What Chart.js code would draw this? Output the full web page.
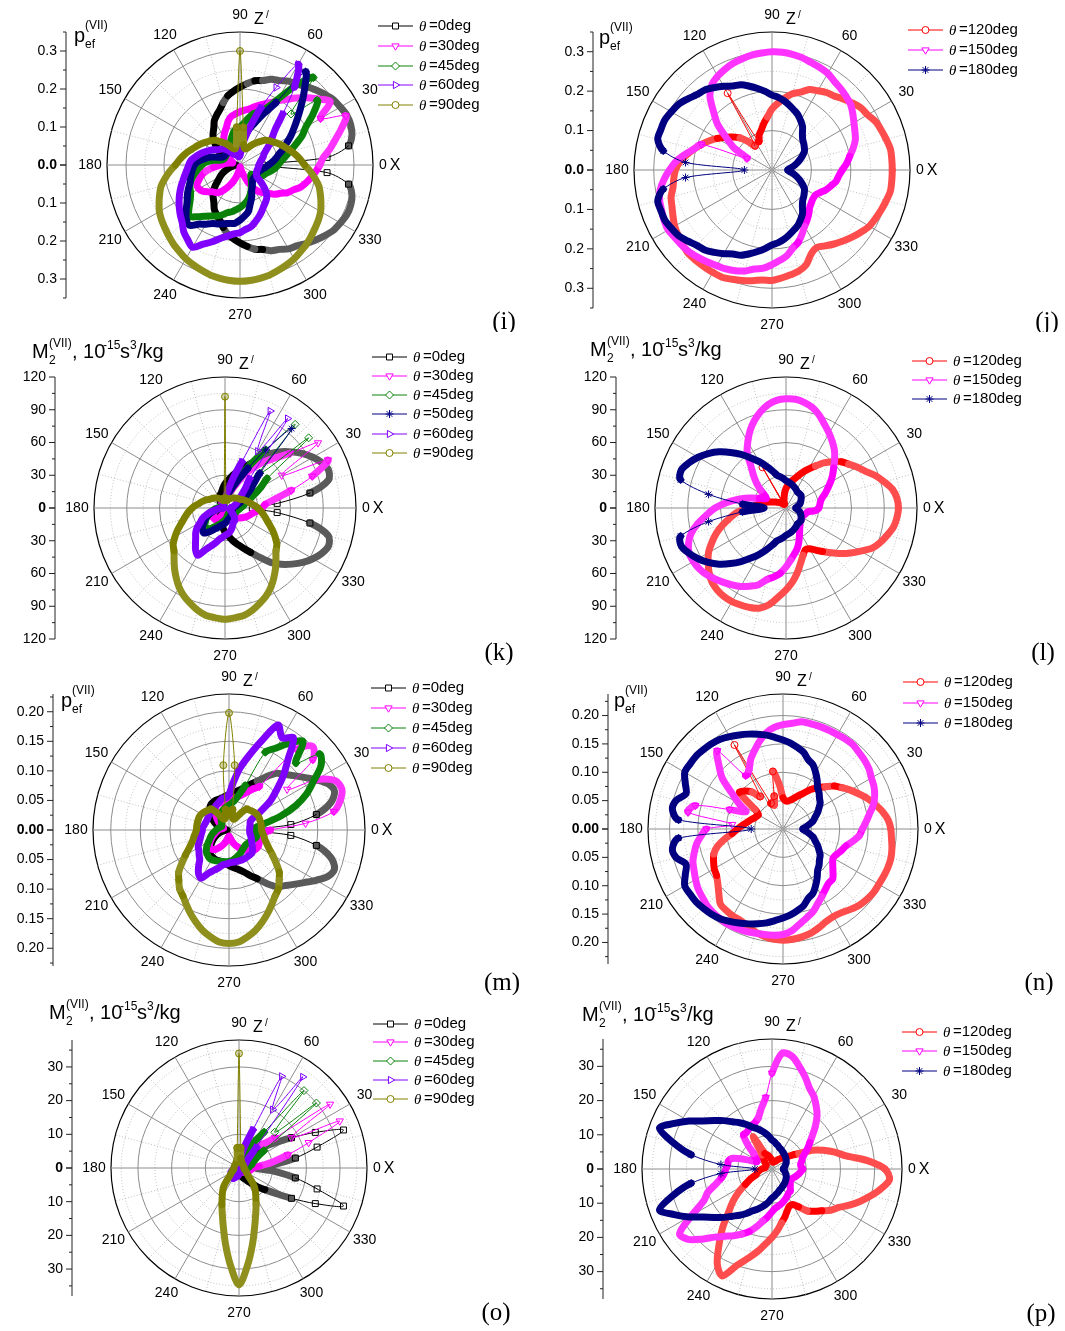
<!DOCTYPE html>
<html>
<head>
<meta charset="utf-8">
<style>
body { margin: 0; background: #fff; }
#page { position: relative; width: 1065px; height: 1331px; overflow: hidden; }
canvas { position: absolute; }
</style>
<script src="https://cdn.jsdelivr.net/npm/chart.js@4/dist/chart.umd.js"></script>
</head>
<body>
<div id="page"></div>
<script>
// all series are listed from 0 to 355 deg in 5 deg steps, one row per 90 deg
const iBlack = [.06,.23,.29,.305,.31,.31,.305,.3,.29,.28,.27,.26,.255,.245,.24,.23,.225,.215,
.205,.195,.185,.17,.155,.145,.135,.12,.11,.1,.085,.07,.06,.05,.04,.03,.02,.015,
.01,.015,.02,.03,.04,.05,.06,.07,.085,.1,.11,.12,.135,.145,.155,.17,.185,.195,
.205,.215,.225,.23,.24,.245,.255,.26,.27,.28,.29,.3,.305,.31,.31,.305,.29,.23];
const iMagenta = [.21,.22,.24,.26,.285,.307,.245,.29,.27,.25,.23,.21,.195,.18,.17,.16,.15,.145,
.14,.135,.13,.12,.105,.095,.085,.075,.06,.05,.04,.035,.03,.025,.02,.02,.03,.04,
.05,.07,.09,.105,.115,.125,.125,.12,.11,.1,.095,.085,.07,.055,.04,.025,.015,.01,
.005,.005,.01,.02,.03,.05,.07,.085,.095,.105,.12,.13,.145,.155,.17,.18,.19,.2];
const iGreen = [.1,.108,.12,.135,.155,.18,.2,.235,.265,.19,.3,.255,.2,.165,.15,.14,.125,.11,
.1,.095,.09,.08,.07,.06,.055,.05,.05,.048,.045,.044,.044,.044,.045,.05,.07,.09,
.1,.11,.12,.13,.14,.145,.15,.16,.175,.19,.178,.165,.155,.148,.14,.13,.125,.118,
.112,.105,.098,.09,.08,.07,.06,.052,.045,.04,.038,.045,.055,.066,.07,.076,.085,.093];
const iNavy = [.075,.085,.095,.105,.12,.135,.155,.175,.2,.23,.265,.3,.19,.15,.12,.1,.08,.07,
.06,.055,.05,.048,.046,.045,.045,.045,.045,.046,.046,.047,.047,.05,.06,.08,.095,.11,
.12,.125,.13,.135,.14,.15,.16,.17,.185,.2,.207,.19,.18,.17,.165,.16,.156,.154,
.145,.135,.125,.105,.09,.073,.065,.057,.052,.05,.05,.05,.05,.05,.052,.055,.06,.067];
const iPurple = [.05,.052,.055,.06,.065,.07,.08,.095,.11,.13,.175,.25,.306,.225,.16,.105,.07,.04,
.025,.022,.022,.025,.028,.03,.033,.04,.05,.06,.065,.07,.08,.09,.1,.11,.12,.13,
.135,.14,.147,.155,.165,.175,.185,.195,.205,.215,.23,.24,.25,.23,.215,.2,.19,.182,
.178,.17,.165,.155,.145,.135,.125,.118,.11,.095,.075,.055,.05,.048,.047,.047,.048,.049];
const iOlive = [.17,.16,.15,.14,.13,.122,.114,.106,.1,.092,.08,.07,.06,.05,.045,.045,.055,.1,
.3,.1,.055,.045,.045,.05,.06,.07,.08,.092,.1,.106,.114,.122,.13,.14,.15,.16,
.17,.185,.2,.215,.225,.235,.245,.252,.258,.265,.272,.278,.285,.29,.295,.3,.303,.305,
.306,.305,.303,.3,.295,.29,.285,.278,.272,.265,.258,.252,.245,.235,.225,.215,.2,.185];

const jRed = [.305,.305,.305,.3,.295,.29,.28,.275,.265,.255,.245,.24,.232,.225,.21,.2,.185,.17,
.155,.135,.12,.105,.095,.08,.225,.075,.095,.115,.13,.145,.16,.175,.19,.205,.22,.235,
.245,.25,.255,.265,.27,.277,.285,.29,.295,.3,.3,.3,.3,.3,.295,.29,.285,.28,
.28,.275,.27,.265,.255,.235,.227,.235,.245,.255,.265,.275,.285,.29,.295,.3,.305,.305];
const jMagenta = [.178,.19,.2,.213,.225,.232,.24,.25,.26,.265,.27,.275,.283,.287,.29,.295,.298,.3,
.3,.298,.296,.292,.288,.282,.275,.265,.245,.21,.18,.14,.11,.07,.19,.205,.225,.245,
.26,.275,.288,.295,.298,.302,.304,.3,.298,.295,.29,.285,.28,.277,.272,.265,.255,.25,
.24,.23,.22,.205,.195,.18,.165,.155,.145,.135,.13,.127,.127,.135,.146,.155,.165,.17];
const jNavy = [.04,.045,.055,.065,.075,.085,.095,.1,.105,.11,.12,.135,.145,.155,.162,.17,.178,.185,
.19,.2,.21,.22,.23,.235,.245,.255,.265,.27,.28,.29,.295,.3,.3,.3,.28,.22,
.07,.22,.28,.3,.3,.3,.295,.29,.28,.27,.265,.255,.245,.235,.23,.22,.21,.2,
.19,.185,.178,.17,.162,.155,.145,.135,.12,.11,.105,.1,.095,.085,.075,.065,.055,.045];

const kBlack = [25,48,79,98,101,98,93,87,80,73,65,55,47,41,36,32,28,25,
22,19,16,14,13,11,9,8,6,5,4,3,2,2,1,1,1,0,
0,0,1,1,1,2,2,3,4,5,6,8,9,11,13,14,16,19,
22,25,28,32,36,41,47,55,65,73,80,87,93,98,101,98,79,48];
const kMagenta = [34,37,46,63,85,104,60,104,78,65,55,45,35,24,18,14,11,9,
8,7,6,6,6,6,6,5,5,4,4,3,3,3,3,3,3,4,
4,6,8,9,11,12,13,14,14,14,14,12,10,8,6,4,3,2,
1,1,1,2,3,4,6,8,10,12,14,16,18,20,22,24,26,30];
const kGreen = [14,16,18,20,24,30,38,47,100,45,100,65,45,30,22,16,12,9,
7,5,4,4,3,3,3,3,3,3,3,3,3,3,4,4,5,6,
7,9,11,13,15,18,20,22,24,25,26,23,20,18,16,15,13,12,
11,10,9,8,7,7,6,6,6,6,7,8,9,10,11,11,12,13];
const kNavy = [7,8,10,12,15,18,22,28,34,45,95,65,42,28,20,15,11,9,
7,6,5,5,4,4,3,3,3,3,2,2,2,2,2,2,2,2,
3,5,8,11,15,18,21,24,27,29,30,27,24,21,19,17,16,15,
14,13,12,11,11,10,10,9,9,8,8,8,7,7,7,7,7,7];
const kPurple = [5,6,8,9,11,12,14,17,21,27,35,100,60,98,45,28,17,11,
8,6,5,5,4,4,4,3,3,3,3,2,2,2,2,2,1,1,
3,5,8,13,18,23,26,31,35,38,42,47,50,42,37,33,29,27,
25,24,23,21,19,17,15,15,14,12,10,8,7,6,5,5,5,5];
const kOlive = [30,27,24,22,20,18,16,15,14,13,12,11,10,9,8,7,7,9,
102,9,7,7,8,9,10,11,12,13,14,15,16,18,20,22,24,27,
30,33,36,39,43,48,53,58,61,66,72,78,84,89,93,97,100,101,
102,101,100,97,93,89,84,78,72,66,61,58,53,48,43,39,36,33];

const lRed = [103,102,99,93,87,80,75,70,66,60,54,47,41,36,31,27,24,21,
18,14,10,7,5,4,43,5,6,7,8,9,11,13,16,20,24,28,
33,45,52,60,68,75,82,87,92,96,98,99,99,98,97,95,90,82,
75,68,60,52,46,42,43,47,52,58,65,72,79,87,92,96,100,102];
const lMagenta = [30,31,32,34,38,42,47,52,57,63,69,74,79,84,90,95,98,100,
100,99,96,91,85,78,70,62,50,42,35,28,22,20,26,35,45,55,
65,73,82,90,95,98,98,97,95,92,89,86,83,79,75,68,64,60,
54,48,43,39,34,29,25,22,20,18,18,17,17,17,18,19,20,27];
const lNavy = [9,10,11,13,14,15,16,17,18,18,18,18,19,20,21,22,23,24,
25,27,29,31,36,42,49,56,64,72,80,87,93,98,102,100,72,40,
20,40,72,100,102,98,93,87,80,72,64,56,49,42,36,31,29,27,
25,24,23,22,21,20,19,18,18,18,18,17,16,15,14,13,11,10];

const mBlack = [.04,.105,.15,.178,.19,.185,.17,.155,.143,.133,.125,.11,.095,.085,.076,.07,.066,.063,
.06,.058,.056,.055,.055,.055,.054,.053,.05,.045,.04,.035,.03,.025,.02,.015,.01,.005,
.003,.005,.01,.015,.02,.025,.03,.035,.04,.045,.05,.053,.054,.055,.055,.055,.056,.058,
.06,.063,.066,.07,.076,.085,.095,.11,.125,.133,.143,.155,.17,.185,.19,.178,.15,.105];
const mMagenta = [.07,.13,.18,.195,.203,.198,.17,.12,.185,.2,.178,.09,.08,.07,.063,.058,.055,.052,
.05,.049,.048,.048,.048,.047,.045,.04,.035,.03,.025,.02,.015,.012,.01,.01,.012,.015,
.018,.02,.022,.025,.028,.032,.036,.04,.043,.045,.043,.04,.035,.03,.025,.02,.015,.012,
.01,.012,.015,.02,.025,.03,.035,.04,.045,.05,.054,.056,.057,.056,.055,.055,.056,.06];
const mGreen = [.04,.045,.06,.09,.12,.145,.165,.19,.2,.16,.195,.18,.16,.145,.08,.06,.05,.045,
.042,.04,.038,.036,.034,.03,.027,.024,.02,.018,.016,.015,.014,.014,.015,.016,.018,.02,
.022,.024,.027,.03,.033,.036,.04,.045,.05,.054,.056,.058,.058,.057,.056,.055,.054,.054,
.053,.052,.05,.048,.046,.044,.042,.04,.039,.038,.038,.039,.04,.042,.045,.048,.047,.044];
const mPurple = [.035,.035,.036,.037,.038,.042,.06,.085,.105,.13,.155,.19,.18,.196,.16,.13,.106,.08,
.06,.055,.055,.053,.05,.048,.046,.045,.044,.043,.042,.042,.041,.041,.041,.042,.043,.045,
.045,.046,.048,.05,.053,.057,.06,.062,.066,.07,.08,.09,.094,.08,.072,.066,.06,.058,
.056,.055,.055,.055,.055,.055,.055,.055,.055,.055,.052,.048,.045,.042,.04,.038,.036,.035];
const mOlive = [.055,.055,.055,.055,.055,.055,.054,.052,.05,.048,.047,.035,.024,.02,.02,.022,.035,.11,
.198,.11,.035,.022,.02,.02,.024,.035,.047,.048,.05,.052,.054,.055,.055,.055,.055,.055,
.055,.057,.06,.063,.068,.075,.085,.097,.111,.12,.13,.136,.145,.155,.165,.175,.183,.19,
.192,.19,.183,.175,.165,.155,.145,.136,.13,.12,.111,.097,.085,.075,.068,.063,.06,.057];

const nRed = [.19,.186,.178,.168,.158,.147,.137,.127,.118,.105,.095,.085,.073,.065,.058,.053,.05,.05,
.055,.08,.103,.06,.045,.05,.171,.07,.085,.095,.1,.06,.05,.052,.055,.06,.065,.072,
.08,.09,.105,.12,.13,.135,.14,.143,.15,.16,.172,.175,.177,.178,.182,.188,.192,.195,
.196,.195,.193,.19,.185,.18,.178,.18,.185,.19,.193,.195,.195,.196,.197,.197,.195,.192];
const nMagenta = [.14,.147,.155,.165,.172,.177,.18,.185,.188,.19,.193,.193,.192,.192,.192,.192,.192,.187,
.184,.18,.172,.16,.147,.135,.12,.115,.18,.16,.14,.11,.09,.072,.1,.16,.17,.09,
.135,.145,.155,.162,.169,.173,.178,.183,.186,.19,.192,.193,.194,.193,.192,.19,.189,.188,
.186,.18,.17,.162,.155,.145,.137,.13,.125,.124,.115,.107,.102,.105,.11,.115,.125,.135];
const nNavy = [.035,.04,.047,.055,.06,.067,.073,.08,.084,.09,.095,.105,.115,.125,.13,.14,.146,.152,
.157,.162,.168,.173,.178,.183,.188,.193,.196,.198,.2,.2,.2,.19,.182,.195,.198,.185,
.056,.185,.198,.195,.182,.19,.2,.2,.2,.198,.196,.193,.188,.183,.178,.173,.168,.162,
.157,.152,.146,.14,.13,.125,.115,.105,.095,.09,.084,.08,.073,.067,.06,.055,.047,.04];

const oBlack = [5,10,17,24,33,25,18,13,10,8,6,5,4,3.5,3,2.5,2,2,
1.5,1.5,1,1,1,.8,.8,.6,.6,.5,.4,.4,.3,.3,.2,.2,.1,.1,
.1,.1,.2,.2,.3,.3,.4,.4,.5,.6,.6,.8,.8,1,1,1,1.5,1.5,
1.5,2,2,2.5,3,3.5,4,5,6,8,10,13,18,25,33,24,17,10];
const oMagenta = [4,6,10,15,22,33,18,33,14,10,8,6,5,4,3,2.5,2,2,
1.5,1.5,1.2,1,1,.8,.8,.6,.5,.5,.4,.4,.4,.5,.5,.6,.7,.9,
1,1.2,1.4,1.6,1.8,2,2,2,2,2,1.8,1.5,1.2,1,.8,.6,.5,.5,
.5,.5,.5,.6,.7,.8,1,1.2,1.5,1.8,2,2.2,2.5,2.8,3,3.3,3.5,3.8];
const oGreen = [2,3,3,4,4,5,6,9,30,15,30,13,9,6,5,4,3,2.5,
2,1.8,1.5,1.3,1.2,1,1,.8,.8,.7,.6,.6,.5,.5,.5,.6,.7,.8,
1,1.2,1.5,1.8,2,2.2,2.5,2.8,3,3,3,2.6,2.2,1.9,1.6,1.4,1.2,1.1,
1,.9,.8,.8,.8,.8,.8,.8,.9,1,1.1,1.2,1.3,1.4,1.5,1.6,1.7,1.9];
const oPurple = [1,1.1,1.2,1.4,1.6,1.8,2,2.5,3,4,8,33,20,30,12,7,4,3,
2,1.8,1.5,1.3,1.1,1,.9,.8,.7,.7,.6,.6,.6,.6,.7,.8,.9,1,
1.1,1.3,1.6,1.9,2.2,2.5,2.8,3,3.2,3.4,3.5,3.5,3.6,3.3,3,2.7,2.4,2.1,
1.9,1.7,1.5,1.4,1.3,1.2,1.1,1,1,1,1,1,1,1,1,1,1,1];
const oOlive = [1.5,1.5,1.5,1.5,1.5,1.5,1.5,1.5,1.5,1.5,1.5,1.6,1.8,2,2.2,2.5,3,6,
34,6,3,2.5,2.2,2,1.8,1.6,1.5,1.5,1.5,1.5,1.5,1.5,1.5,1.5,1.5,1.5,
1.5,1.5,1.5,1.8,2,2.2,2.5,3,3.5,5,7,8.5,10,12,14.5,18,23,29,
34.7,29,23,18,14.5,12,10,8.5,7,5,3.5,3,2.5,2.2,2,1.8,1.5,1.5];

const pRed = [33,28,22,19,16,13,9,7,5.5,4.6,4,3.5,3,2.5,2.3,2.1,2,2,
2.5,3,3.5,4,4.5,5,11,5,4,3,2.5,2,2,2,2,2,2,2.5,
3,3.5,4,4.5,5,7,9,12,15,18,22.5,27,32,34.5,30,27,24.5,22,
20,18,16,14.5,13,12,12,13.5,16,17.5,19,21,22.5,25,27.5,30,32.5,34.5];
const pMagenta = [9,8.5,8.5,9,9.5,10.5,12,13.5,15.5,18,20.5,22.5,24.5,26,28.5,31,33.5,34,
28,21,18,15.5,14.5,14,13.5,13,13,10,7,6,5,5,8,12,13,13,
13.5,14,15,17,20,22,27,33,32,29,26,24,22.5,21,19.5,17.5,15.5,14,
12.5,11.5,11,10.5,10,9.5,9,8.5,8.4,7.5,7,6.5,6.5,6.5,7,7.5,8,8.5];
const pNavy = [3.3,3.5,3.8,4,4.3,4.6,4.8,5,5.2,5.4,5.6,5.8,6,6.3,6.5,7,7.4,8,
8.5,9.5,10.5,11.5,12.5,13.5,15,16.5,18,20,22,24.5,28,31.5,35,30,24,15,
5,15,24,30,35,31.5,28,24.5,22,20,18,16.5,15,13.5,12.5,11.5,10.5,9.5,
8.5,8,7.4,7,6.5,6.3,6,5.8,5.6,5.4,5.2,5,4.8,4.6,4.3,4,3.8,3.5];

const pefTicks = ['0.3','0.2','0.1','0.0','0.1','0.2','0.3'];
const pefTicksFine = ['0.20','0.15','0.10','0.05','0.00','0.05','0.10','0.15','0.20'];
const m2Ticks = ['120','90','60','30','0','30','60','90','120'];
const m2TicksFine = ['30','20','10','0','10','20','30'];
const ringAngles = [0,30,60,90,120,150,180,210,240,270,300,330];

const curve = {
  black: {color: '#000000', band: '#5a5a5a', pointStyle: 'rect', radius: 4.2, rotation: 0, fill: 'rgba(0,0,0,0)'},
  magenta: {color: '#ff00ff', band: '#ff33ff', pointStyle: 'triangle', radius: 4.2, rotation: 180, fill: 'rgba(0,0,0,0)'},
  green: {color: '#0a820a', band: '#0a820a', pointStyle: 'rectRot', radius: 4, rotation: 0, fill: 'rgba(0,0,0,0)'},
  navy: {color: '#000080', band: '#000080', pointStyle: 'star', radius: 4, rotation: 0, fill: 'rgba(0,0,0,0)'},
  purple: {color: '#8000ff', band: '#8000ff', pointStyle: 'triangle', radius: 4.2, rotation: 90, fill: 'rgba(0,0,0,0)'},
  olive: {color: '#808000', band: '#8f8f1e', pointStyle: 'circle', radius: 3.5, rotation: 0, fill: 'rgba(128,128,0,.35)'},
  red: {color: '#ff0000', band: '#ff4d4d', pointStyle: 'circle', radius: 3.5, rotation: 0, fill: 'rgba(0,0,0,0)'}
};

const panels = [
  {tag: '(i)', ox: 0, oy: 0, w: 532, h: 332, cx: 240, cy: 165, R: 133, max: .35, step: .05, major: 2, axisX: 66, ticks: pefTicks,
    title: 'p', titleX: 74, titleY: 42, tagX: 504, tagY: 329,
    series: [['black', iBlack, '0deg'], ['magenta', iMagenta, '30deg'], ['green', iGreen, '45deg'], ['navy', iNavy, null], ['purple', iPurple, '60deg'], ['olive', iOlive, '90deg']],
    legX: 378, legY: [26, 46, 66, 85, 105]},
  {tag: '(j)', ox: 532, oy: 0, w: 533, h: 332, cx: 772, cy: 170, R: 138, max: .35, step: .05, major: 2, axisX: 593, ticks: pefTicks,
    title: 'p', titleX: 599, titleY: 44, tagX: 1047, tagY: 329,
    series: [['red', jRed, '120deg'], ['magenta', jMagenta, '150deg'], ['navy', jNavy, '180deg']],
    legX: 908, legY: [30, 50, 70]},
  {tag: '(k)', ox: 0, oy: 332, w: 532, h: 333, cx: 225, cy: 508, R: 131, max: 120, step: 15, major: 2, axisX: 55, ticks: m2Ticks,
    title: 'M', titleX: 32, titleY: 358, tagX: 499, tagY: 660,
    series: [['black', kBlack, '0deg'], ['magenta', kMagenta, '30deg'], ['green', kGreen, '45deg'], ['navy', kNavy, '50deg'], ['purple', kPurple, '60deg'], ['olive', kOlive, '90deg']],
    legX: 372, legY: [357, 376, 395, 414, 434, 453]},
  {tag: '(l)', ox: 532, oy: 332, w: 533, h: 333, cx: 786, cy: 508, R: 131, max: 120, step: 15, major: 2, axisX: 616, ticks: m2Ticks,
    title: 'M', titleX: 590, titleY: 356, tagX: 1043, tagY: 660,
    series: [['red', lRed, '120deg'], ['magenta', lMagenta, '150deg'], ['navy', lNavy, '180deg']],
    legX: 912, legY: [361, 380, 399]},
  {tag: '(m)', ox: 0, oy: 665, w: 532, h: 330, cx: 229, cy: 830, R: 136, max: .23, step: .025, major: 2, axisX: 53, ticks: pefTicksFine,
    title: 'p', titleX: 61, titleY: 707, tagX: 502, tagY: 990,
    series: [['black', mBlack, '0deg'], ['magenta', mMagenta, '30deg'], ['green', mGreen, '45deg'], ['purple', mPurple, '60deg'], ['olive', mOlive, '90deg']],
    legX: 371, legY: [688, 708, 728, 748, 768]},
  {tag: '(n)', ox: 532, oy: 665, w: 533, h: 330, cx: 783, cy: 829, R: 135, max: .238, step: .025, major: 2, axisX: 608, ticks: pefTicksFine,
    title: 'p', titleX: 614, titleY: 707, tagX: 1039, tagY: 990,
    series: [['red', nRed, '120deg'], ['magenta', nMagenta, '150deg'], ['navy', nNavy, '180deg']],
    legX: 903, legY: [682, 703, 723]},
  {tag: '(o)', ox: 0, oy: 995, w: 532, h: 336, cx: 239, cy: 1168, R: 128, max: 38, step: 5, major: 2, axisX: 72, ticks: m2TicksFine,
    title: 'M', titleX: 49, titleY: 1019, tagX: 496, tagY: 1320,
    series: [['black', oBlack, '0deg'], ['magenta', oMagenta, '30deg'], ['green', oGreen, '45deg'], ['purple', oPurple, '60deg'], ['olive', oOlive, '90deg']],
    legX: 373, legY: [1024, 1042, 1061, 1080, 1099]},
  {tag: '(p)', ox: 532, oy: 995, w: 533, h: 336, cx: 772, cy: 1169, R: 130, max: 38, step: 5, major: 2, axisX: 603, ticks: m2TicksFine,
    title: 'M', titleX: 582, titleY: 1021, tagX: 1041, tagY: 1321,
    series: [['red', pRed, '120deg'], ['magenta', pMagenta, '150deg'], ['navy', pNavy, '180deg']],
    legX: 902, legY: [1032, 1051, 1071]}
];

// radar runs clockwise from 3 o'clock, the data runs counterclockwise
function clockwise(values) {
  return values.map((_, i) => values[(values.length - i) % values.length]);
}

function angleIndex(deg) {
  return ((360 - deg) % 360) / 5;
}

const SANS = '"Liberation Sans", Arial, sans-serif';
const SERIF = '"Liberation Serif", "Times New Roman", serif';
const THIN_FROM = 24;

function put(ctx, str, x, y, font, align) {
  ctx.font = font;
  ctx.textAlign = align || 'left';
  ctx.fillText(str, x, y);
}

function drawAxis(ctx, p, scale) {
  const x = p.axisX - p.ox;
  const cy = p.cy - p.oy;
  ctx.strokeStyle = '#222';
  ctx.lineWidth = 1;
  ctx.beginPath();
  ctx.moveTo(x, cy - p.R);
  ctx.lineTo(x, cy + p.R);
  for (let k = 0; k * p.step <= p.max + 1e-9; k++) {
    const d = scale.getDistanceFromCenterForValue(k * p.step);
    const len = k % p.major === 0 ? 6 : 3;
    ctx.moveTo(x - len, cy - d);
    ctx.lineTo(x, cy - d);
    ctx.moveTo(x - len, cy + d);
    ctx.lineTo(x, cy + d);
  }
  ctx.stroke();

  const mid = (p.ticks.length - 1) / 2;
  ctx.fillStyle = '#000';
  ctx.textBaseline = 'middle';
  p.ticks.forEach((label, i) => {
    const d = scale.getDistanceFromCenterForValue(parseFloat(label));
    const y = i <= mid ? cy - d : cy + d;
    put(ctx, label, x - 9, y, (i === mid ? 'bold ' : '') + '14px ' + SANS, 'right');
  });
}

function drawRing(ctx, p, scale) {
  ctx.fillStyle = '#000';
  ctx.textBaseline = 'middle';
  ringAngles.forEach(deg => {
    const pos = scale.getPointPosition(angleIndex(deg), deg === 0 ? p.R + 10 : p.R + 17);
    put(ctx, String(deg), pos.x, pos.y, '14px ' + SANS, 'center');
  });
  const cx = p.cx - p.ox;
  const cy = p.cy - p.oy;
  put(ctx, 'Z', cx + 19, cy - p.R - 12, '16px ' + SANS, 'center');
  put(ctx, '/', cx + 26, cy - p.R - 17, '10px ' + SANS, 'left');
  put(ctx, 'X', cx + p.R + 22, cy + 1, '16px ' + SANS, 'center');
}

function drawTitle(ctx, p) {
  const x = p.titleX - p.ox;
  const y = p.titleY - p.oy;
  ctx.fillStyle = '#000';
  ctx.textBaseline = 'alphabetic';
  if (p.title === 'p') {
    put(ctx, 'p', x, y, '20px ' + SANS);
    put(ctx, '(VII)', x + 11, y - 13, '12px ' + SANS);
    put(ctx, 'ef', x + 11, y + 6, '12px ' + SANS);
  } else {
    put(ctx, 'M', x, y, '20px ' + SANS);
    put(ctx, '(VII)', x + 17, y - 11, '12px ' + SANS);
    put(ctx, '2', x + 17, y + 6, '12px ' + SANS);
    put(ctx, ', 10', x + 40, y, '20px ' + SANS);
    put(ctx, '-15', x + 71, y - 9, '12px ' + SANS);
    put(ctx, 's', x + 88, y, '20px ' + SANS);
    put(ctx, '3', x + 98, y - 9, '12px ' + SANS);
    put(ctx, '/kg', x + 105, y, '20px ' + SANS);
  }
  put(ctx, p.tag, p.tagX - p.ox, p.tagY - p.oy, '25px ' + SERIF, 'center');
}

function drawLegend(ctx, p) {
  const rows = p.series.filter(s => s[2]);
  rows.forEach((s, i) => {
    const st = curve[s[0]];
    const x = p.legX - p.ox;
    const y = p.legY[i] - p.oy;
    ctx.strokeStyle = st.color;
    ctx.lineWidth = 1;
    ctx.beginPath();
    ctx.moveTo(x, y);
    ctx.lineTo(x + 35, y);
    ctx.stroke();
    ctx.fillStyle = '#fff';
    Chart.helpers.drawPoint(ctx, {pointStyle: st.pointStyle, rotation: st.rotation, radius: st.radius, borderWidth: 1}, x + 17.5, y);
    ctx.fillStyle = '#000';
    ctx.textBaseline = 'middle';
    put(ctx, '\u03b8', x + 41, y + 1, 'italic 15px ' + SERIF);
    put(ctx, '=' + s[2], x + 51, y, '15px ' + SANS);
  });
}

// a 5 deg step that stays short on screen is where the markers pile up into a band,
// radar has no segment option so the runs are handed to the line element directly
function bandSegments(points, st) {
  const n = points.length;
  const styleOf = i => {
    const a = points[i];
    const b = points[(i + 1) % n];
    const len = Math.hypot(b.x - a.x, b.y - a.y);
    const common = {borderCapStyle: 'round', borderJoinStyle: 'round'};
    if (len >= THIN_FROM) return {...common, borderWidth: 1, borderColor: st.color};
    return {...common, borderWidth: 7, borderColor: len < 8 ? st.color : st.band};
  };
  const runs = [];
  let start = 0;
  let style = styleOf(0);
  for (let i = 1; i < n; i++) {
    const next = styleOf(i);
    if (next.borderWidth !== style.borderWidth || next.borderColor !== style.borderColor) {
      runs.push({start: start, end: i, loop: false, style: style});
      start = i;
      style = next;
    }
  }
  // a curve with a single style is one closed run, start and end would coincide otherwise
  if (start === 0) runs.push({start: 0, end: n - 1, loop: true, style: style});
  else runs.push({start: start, end: 0, loop: false, style: style});
  return runs;
}

const panelPlugin = {
  id: 'panelPlugin',
  afterDatasetUpdate(chart, args) {
    const line = chart.getDatasetMeta(args.index).dataset;
    const st = curve[chart.options.plugins.panelPlugin.panel.series[args.index][0]];
    line._chart = chart;
    line._datasetIndex = args.index;
    line.options.segment = true;
    line._segments = bandSegments(line.points, st);
  },
  afterDraw(chart, args, opts) {
    const p = opts.panel;
    const ctx = chart.ctx;
    const scale = chart.scales.r;
    ctx.save();
    drawAxis(ctx, p, scale);
    drawRing(ctx, p, scale);
    drawTitle(ctx, p);
    drawLegend(ctx, p);
    ctx.restore();
  }
};

panels.forEach(p => {
  const canvas = document.createElement('canvas');
  canvas.width = p.w;
  canvas.height = p.h;
  canvas.style.left = p.ox + 'px';
  canvas.style.top = p.oy + 'px';
  document.getElementById('page').appendChild(canvas);

  const labels = clockwise(Array.from({length: 72}, (_, i) => i * 5));
  const isMajor = v => Math.round(v / p.step) % p.major === 0;
  const toPx = p.R / p.max;

  new Chart(canvas, {
    type: 'radar',
    plugins: [panelPlugin],
    data: {
      labels: labels,
      datasets: p.series.map((s, i) => {
        const st = curve[s[0]];
        const data = clockwise(s[1]);
        // markers only show where the curve runs thin
        const stepPx = (a, b) => Math.hypot((a - b) * toPx, (a + b) / 2 * toPx * 0.087);
        const radius = c => {
          const v = data[c.dataIndex];
          const prev = data[(c.dataIndex + 71) % 72];
          const next = data[(c.dataIndex + 1) % 72];
          return Math.max(stepPx(v, prev), stepPx(v, next)) >= THIN_FROM ? st.radius : 0;
        };
        return {
          label: s[2] || s[0],
          data: data,
          order: -i,
          borderColor: st.color,
          borderWidth: 1,
          fill: false,
          tension: .3,
          pointStyle: st.pointStyle,
          pointRotation: st.rotation,
          pointRadius: radius,
          pointBorderWidth: 1,
          pointBorderColor: st.color,
          pointBackgroundColor: st.fill
        };
      })
    },
    options: {
      responsive: false,
      animation: false,
      layout: {
        padding: {
          left: p.cx - p.R - p.ox,
          top: p.cy - p.R - p.oy,
          right: p.ox + p.w - p.cx - p.R,
          bottom: p.oy + p.h - p.cy - p.R
        }
      },
      plugins: {
        legend: {display: false},
        tooltip: {enabled: false},
        panelPlugin: {panel: p}
      },
      scales: {
        r: {
          min: 0,
          max: p.max,
          startAngle: 90,
          ticks: {display: false, stepSize: p.step},
          pointLabels: {display: false},
          grid: {
            circular: true,
            color: c => c.tick.value >= p.max ? '#000' : isMajor(c.tick.value) ? '#8c8c8c' : '#bdbdbd',
            lineWidth: c => c.tick.value >= p.max ? 1.2 : 1
          },
          border: {
            dash: c => (c.tick && c.tick.value < p.max && !isMajor(c.tick.value)) ? [1, 2] : []
          },
          angleLines: {
            color: c => c.index % 6 === 0 ? '#8c8c8c' : '#bdbdbd',
            lineWidth: c => c.index % 3 === 0 ? 1 : 0,
            borderDash: c => c.index % 6 === 0 ? [] : [1, 2]
          }
        }
      }
    }
  });
});
</script>
</body>
</html>
